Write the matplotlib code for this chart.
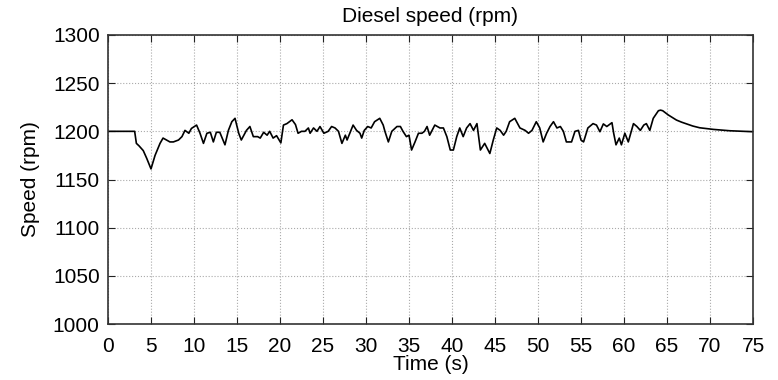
"""Diesel speed trace - engine rpm over a 75 s run."""
import matplotlib
matplotlib.use('Agg')
import matplotlib.pyplot as plt

plt.rcParams['font.family'] = ['Liberation Sans', 'DejaVu Sans']

# values
time_s = [0, 3.1, 3.3, 3.6, 4.1, 4.5, 5.0, 5.47, 6.05, 6.4, 6.8, 7.2, 7.6, 8.2,
          8.6, 8.95, 9.4, 9.7, 10.3, 10.7, 11.1, 11.5, 11.9, 12.25, 12.6, 13.0,
          13.6, 14.0, 14.4, 14.77, 15.2, 15.5, 16.1, 16.5, 16.9, 17.4, 17.7,
          18.1, 18.5, 18.8, 19.2, 19.6, 20.1, 20.4, 20.8, 21.4, 21.8, 22.1,
          22.5, 22.9, 23.3, 23.5, 23.9, 24.3, 24.65, 25.1, 25.6, 26.0, 26.4,
          26.8, 27.2, 27.6, 27.8, 28.2, 28.5, 28.9, 29.3, 29.5, 29.8, 30.2,
          30.6, 31.0, 31.6, 32.0, 32.2, 32.6, 33.0, 33.6, 34.0, 34.3, 34.7,
          35.0, 35.3, 35.7, 36.1, 36.5, 36.8, 37.1, 37.4, 38.0, 38.6, 39.0,
          39.4, 39.8, 40.16, 40.55, 40.9, 41.3, 41.7, 42.1, 42.5, 42.9, 43.3,
          43.8, 44.4, 44.8, 45.2, 45.6, 46.0, 46.3, 46.7, 47.3, 47.9, 48.5,
          48.9, 49.3, 49.8, 50.2, 50.6, 51.0, 51.4, 51.8, 52.2, 52.6, 52.95,
          53.3, 53.9, 54.3, 54.7, 55.0, 55.3, 55.8, 56.4, 56.8, 57.2, 57.6,
          58.0, 58.6, 58.8, 59.07, 59.45, 59.7, 60.1, 60.5, 61.1, 61.5, 61.9,
          62.3, 62.6, 63.0, 63.4, 64.0, 64.25, 64.5, 65.15, 65.6, 66.1, 66.7,
          67.3, 68.0, 68.8, 70.4, 72.3, 75.0]
speed_rpm = [1200, 1200, 1187.5, 1185, 1180, 1172, 1161, 1175, 1187.5, 1193,
             1191, 1189, 1189, 1191, 1194.5, 1201, 1198, 1203, 1206.5, 1198,
             1187.5, 1198, 1199, 1189, 1199, 1199, 1186, 1201, 1210, 1213.5,
             1198, 1191, 1201, 1205, 1194.5, 1194.5, 1193, 1199, 1196, 1200,
             1193, 1195.5, 1188, 1206.5, 1208, 1212, 1207, 1198, 1200, 1200,
             1203.5, 1198, 1203.5, 1200, 1205, 1198, 1200, 1205, 1203.5, 1200,
             1187.5, 1196, 1191, 1200, 1206.5, 1201, 1198, 1193, 1201, 1205,
             1203.5, 1210, 1213.5, 1206.5, 1200, 1189, 1200, 1205, 1205, 1200,
             1194.5, 1196, 1180.6, 1189, 1198, 1198, 1200, 1205, 1196, 1206.5,
             1203.5, 1203.5, 1194.5, 1180.6, 1180.6, 1194.5, 1203.5, 1194.5,
             1203.5, 1208, 1201, 1208, 1180.6, 1187.5, 1177, 1191, 1203.5,
             1201, 1196, 1200, 1210, 1213.5, 1203.5, 1201, 1198, 1201, 1210,
             1203.5, 1189, 1198, 1205, 1210, 1203.5, 1205, 1200, 1189, 1189,
             1200, 1201, 1191, 1189, 1203.5, 1208, 1206.5, 1199.6, 1207.7,
             1205, 1209, 1198, 1186, 1193, 1186, 1198, 1189, 1208, 1205, 1201,
             1206.5, 1208, 1201, 1213.5, 1221.4, 1222, 1221.4, 1217, 1214.5,
             1211.7, 1209.5, 1207.6, 1205.5, 1203.7, 1202, 1200.6, 1199.6]

x_ticks = list(range(0, 80, 5))
y_ticks = list(range(1000, 1350, 50))

fig = plt.figure(figsize=(7.78, 3.80), dpi=100)
ax = fig.add_axes([108 / 778, 1 - 324 / 380, 645 / 778, 289 / 380])

ax.plot(time_s, speed_rpm, color='black', linewidth=1.2)

ax.set_xlim(0, 75)
ax.set_ylim(1000, 1300)
ax.set_xticks(x_ticks)
ax.set_yticks(y_ticks)
ax.grid(True, linestyle=':', color='#aaaaaa', linewidth=0.8)
ax.tick_params(direction='in', length=5, top=True, right=True,
               labelsize=15, color='#222222')
ax.tick_params(axis='x', pad=9)
ax.tick_params(axis='y', pad=6)
for sp in ax.spines.values():
    sp.set_linewidth(1.2)
    sp.set_color('#333333')

ax.set_title('Diesel speed (rpm)', fontsize=15, pad=9)
ax.set_xlabel('Time (s)', fontsize=15, labelpad=0)
ax.set_ylabel('Speed (rpm)', fontsize=15, labelpad=9)

fig.savefig('out.png', dpi=100, facecolor='white')
plt.close(fig)
